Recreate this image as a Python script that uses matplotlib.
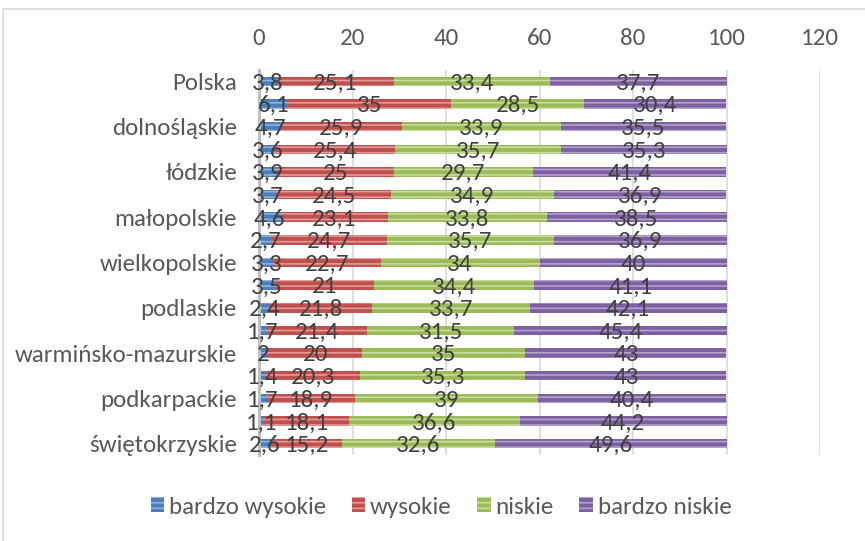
import matplotlib
matplotlib.use('Agg')
import matplotlib.pyplot as plt
from matplotlib.patches import Patch, Rectangle

plt.rcParams['font.family'] = ['Carlito', 'DejaVu Sans']
plt.rcParams['hatch.linewidth'] = 1.2

# row labels (Excel only shows every other one)
row_labels = ['Polska', '', 'dolnośląskie', '', 'łódzkie', '', 'małopolskie', '',
              'wielkopolskie', '', 'podlaskie', '', 'warmińsko-mazurskie', '',
              'podkarpackie', '', 'świętokrzyskie']

series_names = ['bardzo wysokie', 'wysokie', 'niskie', 'bardzo niskie']
bardzo_wysokie = [3.8, 6.1, 4.7, 3.6, 3.9, 3.7, 4.6, 2.7, 3.3, 3.5, 2.4, 1.7, 2, 1.4, 1.7, 1.1, 2.6]
wysokie = [25.1, 35, 25.9, 25.4, 25, 24.5, 23.1, 24.7, 22.7, 21, 21.8, 21.4, 20, 20.3, 18.9, 18.1, 15.2]
niskie = [33.4, 28.5, 33.9, 35.7, 29.7, 34.9, 33.8, 35.7, 34, 34.4, 33.7, 31.5, 35, 35.3, 39, 36.6, 32.6]
bardzo_niskie = [37.7, 30.4, 35.5, 35.3, 41.4, 36.9, 38.5, 36.9, 40, 41.1, 42.1, 45.4, 43, 43, 40.4, 44.2, 49.6]
x_ticks = [0, 20, 40, 60, 80, 100, 120]

face_colors = ['#4a7ebb', '#c0504d', '#9bbb59', '#7d60a0']
stripe_colors = ['#8fb0dc', '#e39a98', '#c8dc9c', '#b3a2cc']
FS = 18

W, H = 865, 541
fig = plt.figure(figsize=(W / 100, H / 100), dpi=100)
ax = fig.add_axes([259 / W, 1 - 455 / H, (820 - 259) / W, (455 - 70) / H])

series = [bardzo_wysokie, wysokie, niskie, bardzo_niskie]
rows = list(range(len(row_labels)))
left = [0.0] * len(rows)
for vals, name, fc, sc in zip(series, series_names, face_colors, stripe_colors):
    ax.barh(rows, vals, left=left, height=0.42, color=fc, edgecolor=sc,
            linewidth=0, hatch='---', zorder=2, label=name)
    for r, v, l in zip(rows, vals, left):
        ax.text(l + v / 2, r + 0.08, f'{v:g}'.replace('.', ','), ha='center', va='center',
                fontsize=FS, color='#404040', zorder=4)
    left = [l + v for l, v in zip(left, vals)]

ax.set_xlim(0, 120)
ax.set_ylim(len(rows) - 0.5, -0.5)
ax.set_xticks(x_ticks)
ax.set_yticks(rows)
ax.set_yticklabels(row_labels)
ax.xaxis.tick_top()
ax.tick_params(axis='x', length=0, pad=15, labelsize=FS, labelcolor='#595959')
ax.tick_params(axis='y', length=0, pad=16, labelsize=FS, labelcolor='#595959')
ax.grid(axis='x', color='#d9d9d9', linewidth=1.2, zorder=0)
ax.set_axisbelow(True)
for s in ['top', 'right', 'bottom']:
    ax.spines[s].set_visible(False)
ax.spines['left'].set_color('#bfbfbf')
ax.spines['left'].set_linewidth(2.2)
ax.spines['left'].set_zorder(3)

handles = [Patch(facecolor=fc, edgecolor=sc, hatch='---', linewidth=0)
           for fc, sc in zip(face_colors, stripe_colors)]
fig.legend(handles, series_names, loc='center', bbox_to_anchor=(441 / W, 1 - 507 / H),
           ncol=4, frameon=False, fontsize=FS, labelcolor='#595959',
           handlelength=0.55, handleheight=0.55, handletextpad=0.2, columnspacing=1.0)

# chart area border
fig.add_artist(Rectangle((3 / W, -0.05), 1.2, 1 - 9 / H + 0.05, transform=fig.transFigure,
                         fill=False, edgecolor='#d9d9d9', linewidth=1.2))

fig.savefig('out.png', dpi=100)
